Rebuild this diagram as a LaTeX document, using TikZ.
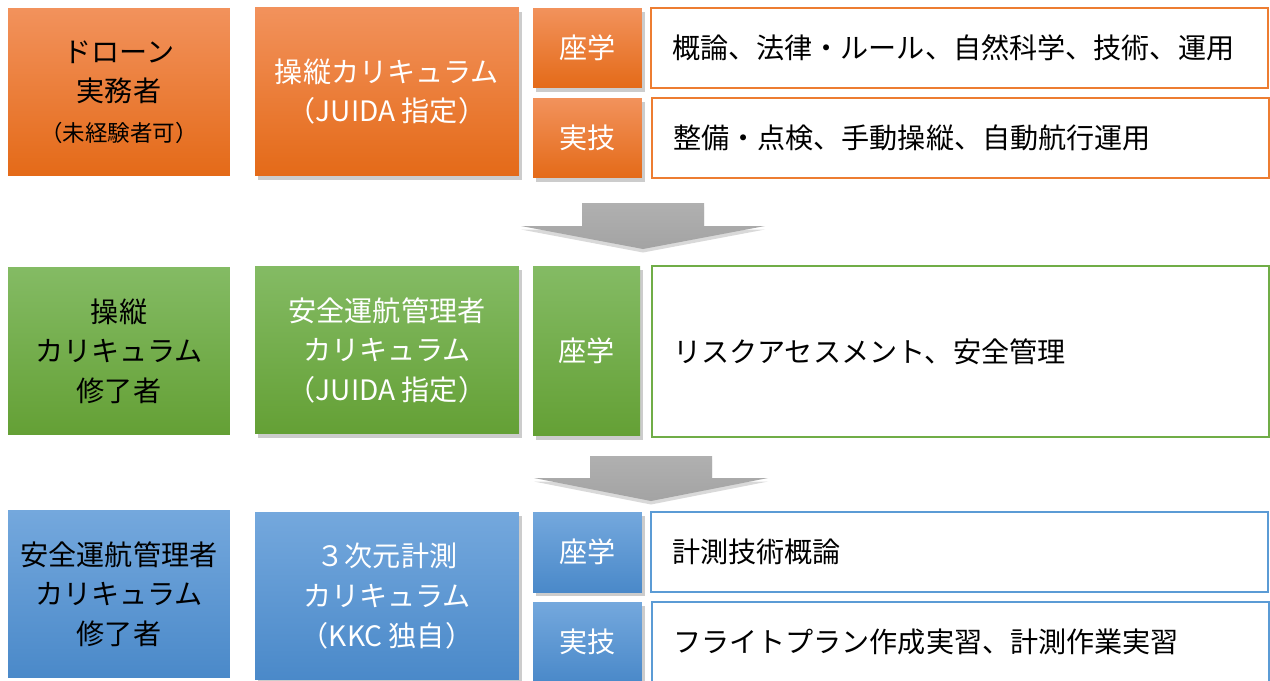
\documentclass[tikz,border=0pt]{standalone}
\usepackage{fontspec}
\setmainfont{Noto Sans CJK JP}
\usetikzlibrary{shadows}
\definecolor{orTop}{HTML}{F2925C}
\definecolor{orBot}{HTML}{E46A18}
\definecolor{orLine}{HTML}{ED7D31}
\definecolor{grTop}{HTML}{84BB64}
\definecolor{grBot}{HTML}{64A035}
\definecolor{grLine}{HTML}{70AD47}
\definecolor{blTop}{HTML}{74A8DD}
\definecolor{blBot}{HTML}{4A89C9}
\definecolor{blLine}{HTML}{5B9BD5}
\tikzstyle{pbox} = [rectangle, text centered, align=center, inner sep=0pt, font=\fontsize{16}{22.5}\selectfont]
\tikzstyle{pwho} = [pbox, minimum width=4.44cm, minimum height=3.36cm, text=black]
\tikzstyle{pcourse} = [pbox, minimum width=5.28cm, minimum height=3.36cm, text=white, drop shadow={shadow xshift=1.5pt, shadow yshift=-2.5pt, opacity=0.4}]
\tikzstyle{pkind} = [pbox, minimum width=2.18cm, minimum height=1.6cm, text=white, drop shadow={shadow xshift=1.5pt, shadow yshift=-2.5pt, opacity=0.4}]
\tikzstyle{pitems} = [pbox, align=left, text width=11.5cm, inner xsep=0.42cm, minimum height=1.6cm, fill=white, draw, line width=1.2pt, text=black]
\tikzstyle{orfill} = [top color=orTop, bottom color=orBot]
\tikzstyle{grfill} = [top color=grTop, bottom color=grBot]
\tikzstyle{blfill} = [top color=blTop, bottom color=blBot]
\tikzstyle{bigarrow} = [top color=gray!62, bottom color=gray!72, draw=none, drop shadow={shadow xshift=0pt, shadow yshift=-2pt, opacity=0.3}]

\begin{document}
\begin{tikzpicture}[x=0.02cm, y=-0.02cm]
\useasboundingbox (0,0) rectangle (1270,680);
% row 1
\node (who1) [pwho, orfill] at (119,92) {ドローン\\実務者\\{\fontsize{12.8}{22.5}\selectfont （未経験者可）}};
\node (course1) [pcourse, orfill] at (387,91.5) {操縦カリキュラム\\（JUIDA 指定）};
\node (desk1) [pkind, orfill] at (587.5,48) {座学};
\node (prac1) [pkind, orfill] at (587.5,138) {実技};
\node (desk1txt) [pitems, draw=orLine] at (959.5,48) {概論、法律・ルール、自然科学、技術、運用};
\node (prac1txt) [pitems, draw=orLine] at (960.5,138) {整備・点検、手動操縦、自動航行運用};
% row 2
\node (who2) [pwho, grfill] at (119,351) {操縦\\カリキュラム\\修了者};
\node (course2) [pcourse, grfill] at (387,350) {安全運航管理者\\カリキュラム\\（JUIDA 指定）};
\node (desk2) [pkind, grfill, minimum width=2.14cm, minimum height=3.4cm] at (586.5,351) {座学};
\node (desk2txt) [pitems, draw=grLine, minimum height=3.42cm] at (960.5,351.5) {リスクアセスメント、安全管理};
% row 3
\node (who3) [pwho, blfill] at (119,594) {安全運航管理者\\カリキュラム\\修了者};
\node (course3) [pcourse, blfill] at (387,596) {３次元計測\\カリキュラム\\（KKC 独自）};
\node (desk3) [pkind, blfill] at (587.5,552) {座学};
\node (prac3) [pkind, blfill] at (587.5,642) {実技};
\node (desk3txt) [pitems, draw=blLine] at (959.5,552) {計測技術概論};
\node (prac3txt) [pitems, draw=blLine] at (960.5,642) {フライトプラン作成実習、計測作業実習};
% arrows between rows
\coordinate (down1) at (643,226);
\coordinate (down2) at (651,478);
\draw [bigarrow] (down1) ++(-61,0) -- ++(0,-23) -- ++(122,0) -- ++(0,23) -- ++(61,0) -- ++(-122,23) -- ++(-122,-23) -- cycle;
\draw [bigarrow] (down2) ++(-61,0) -- ++(0,-22) -- ++(122,0) -- ++(0,22) -- ++(56,0) -- ++(-117,23) -- ++(-117,-23) -- cycle;
\end{tikzpicture}
\end{document}
